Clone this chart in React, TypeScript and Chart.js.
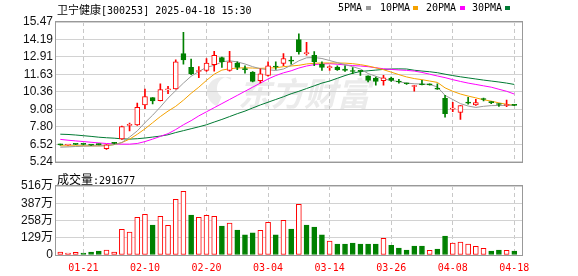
import React, { useEffect, useRef } from 'react';
import { Chart, registerables } from 'chart.js';
Chart.register(...registerables);

const dates = ['01-16','01-17','01-20','01-21','01-22','01-23','01-24','01-27','02-05','02-06','02-07','02-10','02-11','02-12','02-13','02-14','02-17','02-18','02-19','02-20','02-21','02-24','02-25','02-26','02-27','02-28','03-03','03-04','03-05','03-06','03-07','03-10','03-11','03-12','03-13','03-14','03-17','03-18','03-19','03-20','03-21','03-24','03-25','03-26','03-27','03-28','03-31','04-01','04-02','04-03','04-07','04-08','04-09','04-10','04-11','04-14','04-15','04-16','04-17','04-18'];

const open = [6.50,6.47,6.54,6.54,6.47,6.52,6.20,6.62,6.91,7.90,7.93,9.41,9.94,9.72,10.50,10.58,13.16,12.15,11.85,11.92,12.35,12.87,11.92,12.46,12.02,11.80,11.18,11.56,12.22,12.44,12.65,14.18,13.16,13.04,12.37,12.13,12.18,12.03,11.88,11.89,11.53,11.37,11.18,11.37,11.10,10.98,10.75,10.90,10.90,10.63,9.89,9.10,8.86,9.57,9.41,9.84,9.60,9.47,9.36,9.40];
const high = [6.53,6.50,6.56,6.56,6.49,6.55,6.50,6.66,7.86,8.08,9.53,10.56,9.94,10.94,10.77,12.70,14.71,12.75,12.20,12.80,13.32,12.90,13.32,12.56,12.27,11.84,12.04,12.56,12.56,13.16,12.94,14.61,13.99,13.30,12.56,12.27,12.27,12.27,12.13,11.92,11.53,11.44,11.56,11.44,11.27,11.00,10.84,11.20,10.94,10.94,10.10,9.60,9.36,9.96,9.82,9.90,9.65,9.50,9.75,9.43];
const low = [6.45,6.45,6.49,6.48,6.44,6.47,6.15,6.55,6.88,7.50,7.90,9.12,9.48,9.70,10.22,10.55,12.39,11.61,11.39,11.85,11.87,12.15,11.87,11.99,11.72,11.08,11.01,11.51,12.00,12.27,12.39,13.11,13.04,12.27,11.92,11.92,11.92,11.85,11.68,11.56,11.08,10.84,10.84,11.13,10.99,10.90,10.41,10.87,10.84,10.53,8.50,8.90,8.34,9.46,9.36,9.70,9.50,9.30,9.27,9.35];
const close = [6.48,6.49,6.52,6.52,6.46,6.50,6.48,6.59,7.81,7.96,9.22,10.01,9.70,10.53,10.56,12.56,12.70,11.68,11.92,12.46,13.04,12.56,12.56,12.15,11.98,11.13,11.68,12.27,12.18,12.80,12.61,13.30,13.20,12.56,12.15,12.20,11.99,11.92,11.85,11.86,11.20,11.13,11.39,11.20,11.08,10.95,10.79,10.88,10.87,10.56,8.77,9.13,9.36,9.53,9.58,9.80,9.57,9.43,9.41,9.37];

// volume in 万
const volume = [22,15,20,15,22,30,37,22,192,172,282,304,224,289,222,416,476,299,282,297,289,217,239,187,150,165,184,244,150,259,194,379,224,209,150,105,82,82,90,82,82,82,125,72,52,37,67,67,35,45,142,90,97,82,65,50,30,37,35,29.17];
const volUp = [1,1,1,0,0,0,1,1,1,1, 1,1,0,1,1,1,1,0,1,1, 1,0,1,0,0,0,1,1,0,1, 0,1,0,0,0,1,0,0,0,0, 0,0,1,0,0,0,0,0,1,0, 0,1,1,1,1,1,0,0,1,0];

const ma5 = [6.31,6.33,6.36,6.38,6.40,6.40,6.42,6.50,6.65,7.05,7.50,8.10,8.65,9.25,9.90,10.45,11.00,11.50,11.85,12.15,12.30,12.55,12.63,12.55,12.40,12.20,12.05,11.98,11.92,12.03,12.30,12.63,12.85,12.87,12.80,12.65,12.50,12.35,12.20,12.03,11.70,11.50,11.30,11.20,11.10,11.00,10.95,10.93,10.90,10.72,10.10,9.80,9.50,9.32,9.22,9.30,9.35,9.36,9.37,9.38];
const ma10 = [6.41,6.41,6.41,6.41,6.41,6.41,6.42,6.50,6.65,6.90,7.25,7.65,8.10,8.55,8.95,9.30,9.75,10.25,10.70,11.20,11.65,11.95,12.05,12.10,12.12,12.10,12.08,12.10,12.12,12.20,12.25,12.30,12.40,12.45,12.47,12.47,12.47,12.46,12.42,12.35,12.25,12.12,11.98,11.80,11.62,11.45,11.33,11.25,11.15,11.05,10.65,10.40,10.20,10.05,9.92,9.78,9.68,9.55,9.45,9.37];
const ma20 = [6.88,6.82,6.77,6.72,6.67,6.62,6.58,6.55,6.53,6.53,6.58,6.72,6.90,7.10,7.30,7.60,7.95,8.25,8.60,8.90,9.20,9.50,9.80,10.10,10.40,10.70,11.00,11.30,11.55,11.75,11.90,12.10,12.25,12.35,12.40,12.42,12.38,12.33,12.28,12.25,12.20,12.12,12.05,12.00,11.96,11.93,11.88,11.78,11.65,11.52,11.40,11.25,11.12,11.00,10.90,10.80,10.70,10.55,10.40,10.20];
const ma30 = [7.26,7.24,7.20,7.15,7.10,7.04,7.00,6.97,6.92,6.90,6.93,6.98,7.05,7.12,7.22,7.38,7.52,7.66,7.80,7.95,8.15,8.34,8.55,8.76,8.95,9.18,9.40,9.60,9.80,10.00,10.22,10.40,10.60,10.80,11.00,11.15,11.35,11.55,11.72,11.85,11.90,11.95,12.00,12.03,12.04,12.03,11.94,11.88,11.83,11.76,11.65,11.55,11.46,11.38,11.30,11.22,11.15,11.08,11.00,10.90];

const priceTicks = [15.47,14.19,12.91,11.63,10.36,9.08,7.80,6.52,5.24];
const volTicks = [0,129,258,387,516];
const dateTickIdx = [3,11,19,27,35,43,51,59];

const RED = '#ff0000';
const GREEN = '#008000';
const C_MA5 = '#9a9a9a';
const C_MA10 = '#f5a200';
const C_MA20 = '#ff00ff';
const C_MA30 = '#007a33';
const X_MIN = -0.56;
const X_MAX = 60;

const idx = dates.map((_, i) => i);

const framePlugin = {
  id: 'frame',
  afterDatasetsDraw(chart: any) {
    const { ctx, chartArea: a } = chart;
    ctx.save();
    ctx.strokeStyle = '#999999';
    ctx.lineWidth = 1;
    ctx.strokeRect(Math.round(a.left) - 0.5, Math.round(a.top) - 0.5, Math.round(a.right - a.left) + 1, Math.round(a.bottom - a.top) + 1);
    ctx.restore();
  },
};

const watermarkPlugin = {
  id: 'watermark',
  beforeDraw(chart: any) {
    const { ctx } = chart;
    ctx.save();
    ctx.fillStyle = '#ebebeb';
    ctx.font = "italic bold 33px 'Noto Sans CJK SC'";
    ctx.textBaseline = 'middle';
    ctx.fillText('东方财富', 238, 93);
    ctx.beginPath();
    ctx.arc(222, 92, 15, 0.6 * Math.PI, 1.7 * Math.PI);
    ctx.arc(228, 88, 11, 1.6 * Math.PI, 0.7 * Math.PI, true);
    ctx.closePath();
    ctx.fill();
    ctx.restore();
  },
};

const xAxis = (labels: boolean) => ({
  type: 'linear',
  min: X_MIN,
  max: X_MAX,
  offset: false,
  afterBuildTicks: (s: any) => { s.ticks = dateTickIdx.map((v) => ({ value: v })); },
  afterFit: (s: any) => { s.height = labels ? 21 : 0; },
  grid: { color: '#c8c8c8', drawTicks: false, lineWidth: 1, offset: false },
  border: { display: false, dash: [4, 3] },
  ticks: {
    display: labels,
    color: RED,
    font: { family: "'DejaVu Sans Mono', monospace", size: 10 },
    padding: 7,
    maxRotation: 0,
    autoSkip: false,
    callback: (v: any) => dates[v] ?? '',
  },
});

const yFont = { family: "'Liberation Sans', 'Noto Sans CJK SC', sans-serif", size: 12 };

export default function App() {
  const topRef = useRef<HTMLCanvasElement>(null);
  const volRef = useRef<HTMLCanvasElement>(null);

  useEffect(() => {
    const isUp = (i: number) => close[i] >= open[i];
    const maLine = (label: string, data: number[], color: string) => ({
      type: 'line',
      label,
      data: data.map((y, i) => ({ x: i, y })),
      borderColor: color,
      borderWidth: 1,
      pointRadius: 0,
      tension: 0,
      fill: false,
      order: 3,
    });

    const top = new Chart(topRef.current as HTMLCanvasElement, {
      type: 'bar',
      data: {
        datasets: [
          {
            type: 'bar',
            label: 'body',
            data: idx.map((i) => ({ x: i, y: [open[i], close[i]] })),
            backgroundColor: idx.map((i) => (isUp(i) ? '#ffffff' : GREEN)),
            borderColor: idx.map((i) => (isUp(i) ? RED : GREEN)),
            borderWidth: 1,
            borderSkipped: false,
            barThickness: 5,
            minBarLength: 1,
            grouped: false,
            order: 1,
          },
          {
            type: 'bar',
            label: 'wick',
            data: idx.map((i) => ({ x: i, y: [low[i], high[i]] })),
            backgroundColor: idx.map((i) => (isUp(i) ? RED : GREEN)),
            borderWidth: 0,
            barThickness: 1,
            grouped: false,
            order: 2,
          },
          maLine('5PMA', ma5, C_MA5),
          maLine('10PMA', ma10, C_MA10),
          maLine('20PMA', ma20, C_MA20),
          maLine('30PMA', ma30, C_MA30),
        ] as any,
      },
      options: {
        animation: false,
        responsive: false,
        devicePixelRatio: 1,
        events: [],
        layout: { padding: { top: 22, right: 56, bottom: 7, left: 0 } },
        plugins: { legend: { display: false }, tooltip: { enabled: false } },
        scales: {
          x: xAxis(false) as any,
          y: {
            min: 5.24,
            max: 15.47,
            afterBuildTicks: (s: any) => { s.ticks = priceTicks.map((v) => ({ value: v })); },
            afterFit: (s: any) => { s.width = 56; },
            grid: { color: '#d2d2d2', drawTicks: false },
            border: { display: false },
            ticks: { color: '#111', font: yFont, padding: 3, autoSkip: false, callback: (v: any) => Number(v).toFixed(2) },
          },
        },
      },
      plugins: [watermarkPlugin, framePlugin],
    } as any);

    const vol = new Chart(volRef.current as HTMLCanvasElement, {
      type: 'bar',
      data: {
        datasets: [
          {
            label: 'volume',
            data: idx.map((i) => ({ x: i, y: volume[i] })),
            backgroundColor: idx.map((i) => (volUp[i] ? '#ffffff' : GREEN)),
            borderColor: idx.map((i) => (volUp[i] ? RED : GREEN)),
            borderWidth: 1,
            borderSkipped: false,
            barThickness: 5,
          },
        ] as any,
      },
      options: {
        animation: false,
        responsive: false,
        devicePixelRatio: 1,
        events: [],
        layout: { padding: { top: 14, right: 56, bottom: 0, left: 0 } },
        plugins: { legend: { display: false }, tooltip: { enabled: false } },
        scales: {
          x: xAxis(true) as any,
          y: {
            min: 0,
            max: 516,
            afterBuildTicks: (s: any) => { s.ticks = volTicks.map((v) => ({ value: v })); },
            afterFit: (s: any) => { s.width = 56; },
            grid: { color: '#d2d2d2', drawTicks: false },
            border: { display: false },
            ticks: { color: '#111', font: yFont, padding: 3, autoSkip: false, callback: (v: any) => (v === 0 ? '0' : v + '万') },
          },
        },
      },
      plugins: [framePlugin],
    } as any);

    return () => {
      top.destroy();
      vol.destroy();
    };
  }, []);

  const mono = "'DejaVu Sans Mono', monospace";
  const cjk = "'Noto Sans CJK SC', sans-serif";
  const legendItem = (text: string, left: number, sqLeft: number, color: string) => (
    <React.Fragment key={text}>
      <span style={{ position: 'absolute', left, top: 1, font: `10px ${mono}`, lineHeight: '14px', color: '#000' }}>{text}</span>
      <span style={{ position: 'absolute', left: sqLeft, top: 6, width: 5, height: 4, background: color }} />
    </React.Fragment>
  );

  return (
    <div style={{ position: 'fixed', left: 0, top: 0, width: 578, height: 276, background: '#fff', overflow: 'hidden' }}>
      <canvas ref={topRef} width={578} height={172} style={{ position: 'absolute', left: 0, top: 0, width: 578, height: 172 }} />
      <canvas ref={volRef} width={578} height={104} style={{ position: 'absolute', left: 0, top: 172, width: 578, height: 104 }} />
      <div style={{ position: 'absolute', left: 57, top: 1, lineHeight: '14px', whiteSpace: 'nowrap', color: '#000' }}>
        <span style={{ font: `11px ${cjk}` }}>卫宁健康</span>
        <span style={{ font: `10px ${mono}` }}>[300253] 2025-04-18 15:30</span>
      </div>
      {legendItem('5PMA', 338, 366, C_MA5)}
      {legendItem('10PMA', 380, 413, C_MA10)}
      {legendItem('20PMA', 426, 460, C_MA20)}
      {legendItem('30PMA', 472, 505, C_MA30)}
      <div style={{ position: 'absolute', left: 57, top: 170, lineHeight: '14px', whiteSpace: 'nowrap', color: '#000' }}>
        <span style={{ font: `12px ${cjk}` }}>成交量</span>
        <span style={{ font: `10px ${mono}` }}>:291677</span>
      </div>
    </div>
  );
}
